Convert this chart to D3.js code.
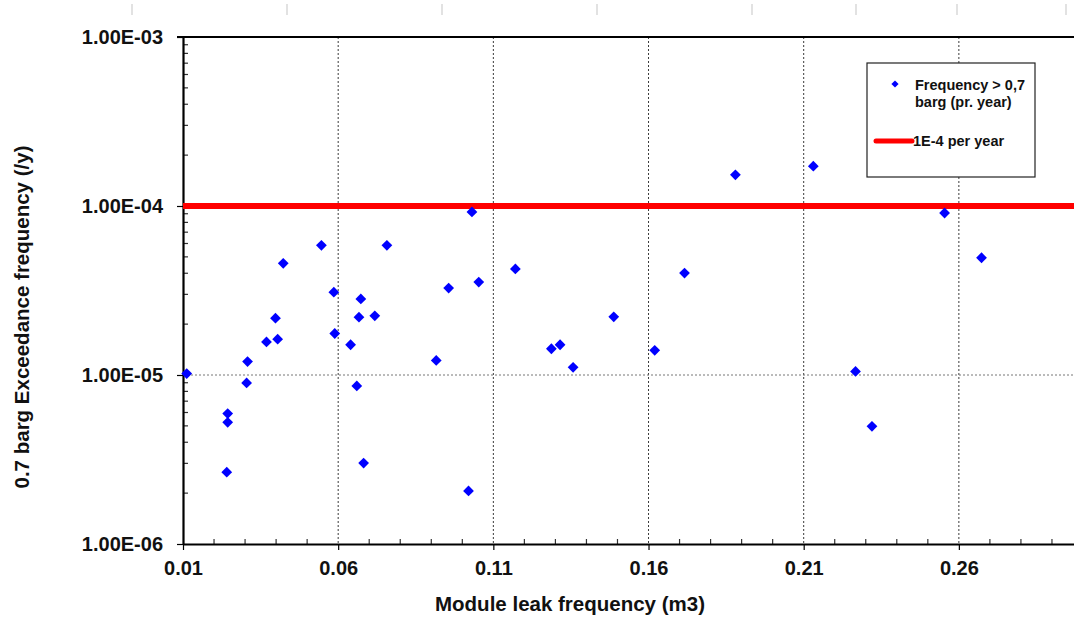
<!DOCTYPE html>
<html>
<head>
<meta charset="utf-8">
<script src="https://cdn.jsdelivr.net/npm/d3@7"></script>
<style>
  body { margin: 0; background: #fff; }
  svg { display: block; font-family: "Liberation Sans", Arial, sans-serif; font-weight: bold; }
</style>
</head>
<body>
<svg id="chart" width="1074" height="619"></svg>
<script>
// leak volume (m3) and 0.7 barg exceedance frequency (/y), one entry per module case
const leakVolume = [
  0.0112, 0.0546, 0.0757, 0.0423, 0.0586, 0.0673, 0.0398, 0.0667, 0.0718, 0.0369,
  0.0405, 0.0589, 0.0640, 0.0308, 0.0305, 0.0660, 0.0244, 0.0244, 0.0241, 0.0682,
  0.1031, 0.0956, 0.1053, 0.1171, 0.0916, 0.1287, 0.1315, 0.1357, 0.1488, 0.1620,
  0.1716, 0.1020, 0.1880, 0.2131, 0.2554, 0.2673, 0.2267, 0.2320
];
const exceedFreq = [
  1.02e-5, 5.85e-5, 5.85e-5, 4.58e-5, 3.09e-5, 2.82e-5, 2.17e-5, 2.20e-5, 2.24e-5, 1.57e-5,
  1.63e-5, 1.76e-5, 1.51e-5, 1.20e-5, 8.97e-6, 8.61e-6, 5.91e-6, 5.25e-6, 2.66e-6, 3.01e-6,
  9.22e-5, 3.27e-5, 3.55e-5, 4.24e-5, 1.22e-5, 1.43e-5, 1.51e-5, 1.11e-5, 2.21e-5, 1.40e-5,
  4.01e-5, 2.06e-6, 1.53e-4, 1.72e-4, 9.09e-5, 4.94e-5, 1.05e-5, 4.97e-6
];
const criterion = 1e-4;

const xTicks = [0.01, 0.06, 0.11, 0.16, 0.21, 0.26];
const xTickLabels = ["0.01", "0.06", "0.11", "0.16", "0.21", "0.26"];
const yTicks = [1e-6, 1e-5, 1e-4, 1e-3];
const yTickLabels = ["1.00E-06", "1.00E-05", "1.00E-04", "1.00E-03"];
const seriesNames = ["Frequency > 0,7", "barg (pr. year)"];
const criterionName = "1E-4 per year";

const data = leakVolume.map((v, i) => ({ x: v, y: exceedFreq[i] }));

const svg = d3.select("#chart");
const plotLeft = 183, plotTop = 37, plotBottom = 544, plotRight = 1083;

const x = d3.scaleLinear().domain([0.01, 0.3]).range([plotLeft, plotRight]);
const y = d3.scaleLog().domain([1e-6, 1e-3]).range([plotBottom, plotTop]);

// faint column marks above the chart (sheet background)
svg.append("g")
  .selectAll("line")
  .data([132, 287, 442, 597, 752, 856, 957, 1066])
  .join("line")
  .attr("x1", d => d).attr("x2", d => d)
  .attr("y1", 4).attr("y2", 15)
  .attr("stroke", "#d8d8d8")
  .attr("stroke-width", 1.5);

// grid
const grid = svg.append("g").attr("stroke", "#3a3a3a").attr("stroke-width", 1).attr("stroke-dasharray", "2,2");
grid.selectAll(".vg")
  .data(xTicks.slice(1))
  .join("line")
  .attr("x1", d => x(d)).attr("x2", d => x(d))
  .attr("y1", plotTop).attr("y2", plotBottom);
grid.selectAll(".hg")
  .data(yTicks.slice(1, 3))
  .join("line")
  .attr("x1", plotLeft).attr("x2", plotRight)
  .attr("y1", d => y(d)).attr("y2", d => y(d))
  .attr("stroke", "#777");

// minor ticks, drawn inside the plot
const yMinor = [];
[1e-6, 1e-5, 1e-4].forEach(p => { for (let k = 2; k <= 9; k++) yMinor.push(p * k); });
svg.append("g")
  .selectAll("line")
  .data(yMinor)
  .join("line")
  .attr("x1", plotLeft).attr("x2", plotLeft + 5)
  .attr("y1", d => y(d)).attr("y2", d => y(d))
  .attr("stroke", "#333").attr("stroke-width", 1.2);

const xMinor = d3.range(1, 30).map(i => 0.01 + i * 0.01).filter(v => !xTicks.some(t => Math.abs(t - v) < 1e-9));
svg.append("g")
  .selectAll("line")
  .data(xMinor)
  .join("line")
  .attr("x1", d => x(d)).attr("x2", d => x(d))
  .attr("y1", plotBottom).attr("y2", plotBottom - 5)
  .attr("stroke", "#333").attr("stroke-width", 1.2);

// axes
const xAxis = svg.append("g")
  .attr("transform", `translate(0,${plotBottom})`)
  .call(d3.axisBottom(x).tickValues(xTicks).tickFormat((d, i) => xTickLabels[i]).tickSize(6).tickSizeOuter(0).tickPadding(11));
const yAxis = svg.append("g")
  .attr("transform", `translate(${plotLeft},0)`)
  .call(d3.axisLeft(y).tickValues(yTicks).tickFormat((d, i) => yTickLabels[i]).tickSize(6).tickSizeOuter(0).tickPadding(14));

[xAxis, yAxis].forEach(a => {
  a.select(".domain").attr("stroke", "#000").attr("stroke-width", 2.2);
  a.selectAll(".tick line").attr("stroke", "#000").attr("stroke-width", 1.2);
  a.selectAll(".tick text")
    .attr("fill", "#111")
    .style("font-size", "20px")
    .style("font-weight", "bold")
    .style("font-family", '"Liberation Sans", Arial, sans-serif');
});

// top border
svg.append("line")
  .attr("x1", plotLeft - 6).attr("x2", plotRight)
  .attr("y1", plotTop).attr("y2", plotTop)
  .attr("stroke", "#000").attr("stroke-width", 2.2);

// criterion line
svg.append("line")
  .attr("x1", plotLeft).attr("x2", plotRight)
  .attr("y1", y(criterion)).attr("y2", y(criterion))
  .attr("stroke", "#ff0000").attr("stroke-width", 6);

// points
svg.append("g")
  .selectAll("path")
  .data(data)
  .join("path")
  .attr("d", d3.symbol(d3.symbolSquare, 58))
  .attr("transform", d => `translate(${x(d.x)},${y(d.y)}) rotate(45)`)
  .attr("fill", "#0000ff");

// axis titles
svg.append("text")
  .attr("x", 570).attr("y", 611)
  .attr("text-anchor", "middle")
  .style("font-size", "20.5px")
  .attr("fill", "#111")
  .text("Module leak frequency (m3)");

svg.append("text")
  .attr("transform", "translate(29,317) rotate(-90)")
  .attr("text-anchor", "middle")
  .style("font-size", "20.5px")
  .attr("fill", "#111")
  .text("0.7 barg Exceedance frequency (/y)");

// legend
const legend = svg.append("g").attr("transform", "translate(867,63)");
legend.append("rect")
  .attr("width", 168).attr("height", 114)
  .attr("fill", "#fff").attr("stroke", "#222").attr("stroke-width", 1.2);
legend.append("path")
  .attr("d", d3.symbol(d3.symbolSquare, 26))
  .attr("transform", "translate(28,21) rotate(45)")
  .attr("fill", "#0000ff");
legend.selectAll(".lt")
  .data(seriesNames)
  .join("text")
  .attr("x", 48).attr("y", (d, i) => 27 + i * 16.5)
  .style("font-size", "14.5px")
  .attr("fill", "#111")
  .text(d => d);
legend.append("line")
  .attr("x1", 9).attr("x2", 45)
  .attr("y1", 78).attr("y2", 78)
  .attr("stroke", "#ff0000").attr("stroke-width", 5).attr("stroke-linecap", "round");
legend.append("text")
  .attr("x", 46).attr("y", 83)
  .style("font-size", "14.5px")
  .attr("fill", "#111")
  .text(criterionName);
</script>
</body>
</html>
